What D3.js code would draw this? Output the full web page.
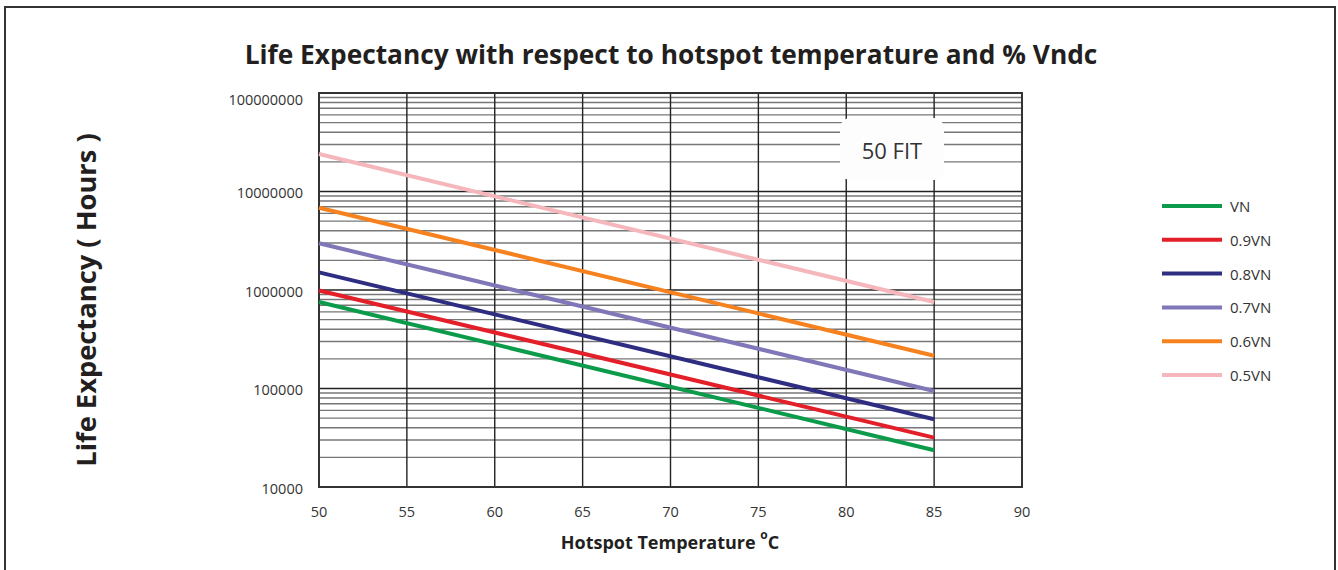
<!DOCTYPE html>
<html>
<head>
<meta charset="utf-8">
<script src="https://cdn.jsdelivr.net/npm/d3@7"></script>
<style>
  body { margin: 0; background: #fff; }
  text { font-family: "Open Sans", sans-serif; }
</style>
</head>
<body>
<div id="chart"></div>
<script>
// data (values at 50 and 85 degC)
var temps = [50, 85];
var seriesNames = ["VN", "0.9VN", "0.8VN", "0.7VN", "0.6VN", "0.5VN"];
var vn   = [755000, 23600];
var vn09 = [990000, 31700];
var vn08 = [1510000, 48700];
var vn07 = [2980000, 94400];
var vn06 = [6850000, 215000];
var vn05 = [24000000, 755000];
var xTicks = [50, 55, 60, 65, 70, 75, 80, 85, 90];
var yTicks = [10000, 100000, 1000000, 10000000, 100000000];
var yTickLabels = ["10000", "100000", "1000000", "10000000", "100000000"];

var colors = ["#0b9b4b", "#e31f2a", "#2e2d82", "#7f77b7", "#f6821f", "#f5b7bc"];
var allSeries = [vn, vn09, vn08, vn07, vn06, vn05];

var W = 1338, H = 570;
var svg = d3.select("#chart").append("svg")
  .attr("width", W).attr("height", H);

// outer frame
svg.append("rect")
  .attr("x", 5).attr("y", 7)
  .attr("width", 1330).attr("height", 600)
  .attr("fill", "none").attr("stroke", "#333").attr("stroke-width", 2);

var plotLeft = 319, plotRight = 1022, plotTop = 93, plotBottom = 487;

var x = d3.scaleLinear().domain([50, 90]).range([plotLeft, plotRight]);
var y = d3.scaleLog().domain([10000, 100000000]).range([plotBottom, plotTop]);

// minor horizontal grid
svg.append("g").selectAll("line")
  .data(y.ticks().filter(function(d) { return yTicks.indexOf(d) < 0; }))
  .enter().append("line")
    .attr("x1", plotLeft).attr("x2", plotRight)
    .attr("y1", function(d) { return y(d); })
    .attr("y2", function(d) { return y(d); })
    .attr("stroke", "#777").attr("stroke-width", 1.4);

// major horizontal grid
svg.append("g").selectAll("line")
  .data(yTicks)
  .enter().append("line")
    .attr("x1", plotLeft).attr("x2", plotRight)
    .attr("y1", function(d) { return y(d); })
    .attr("y2", function(d) { return y(d); })
    .attr("stroke", "#222").attr("stroke-width", 1.4);

// vertical grid
svg.append("g").selectAll("line")
  .data(xTicks)
  .enter().append("line")
    .attr("x1", function(d) { return x(d); })
    .attr("x2", function(d) { return x(d); })
    .attr("y1", plotTop).attr("y2", plotBottom)
    .attr("stroke", "#222").attr("stroke-width", 1.4);

// plot frame
svg.append("rect")
  .attr("x", plotLeft).attr("y", plotTop)
  .attr("width", plotRight - plotLeft).attr("height", plotBottom - plotTop)
  .attr("fill", "none").attr("stroke", "#333").attr("stroke-width", 2);

// 50 FIT box
svg.append("rect")
  .attr("x", 840).attr("y", 118)
  .attr("width", 104).attr("height", 62)
  .attr("rx", 10)
  .attr("fill", "#fdfdfd");
svg.append("text")
  .attr("x", 892).attr("y", 150)
  .attr("text-anchor", "middle")
  .attr("dominant-baseline", "central")
  .attr("font-size", 22)
  .attr("fill", "#333")
  .text("50 FIT");

// series lines
var line = d3.line()
  .x(function(d, i) { return x(temps[i]); })
  .y(function(d) { return y(d); });

svg.append("g").selectAll("path")
  .data(allSeries)
  .enter().append("path")
    .attr("d", line)
    .attr("fill", "none")
    .attr("stroke", function(d, i) { return colors[i]; })
    .attr("stroke-width", 4);

// y tick labels
svg.append("g").selectAll("text")
  .data(yTicks)
  .enter().append("text")
    .attr("x", 303)
    .attr("y", function(d, i) { return y(d) + (i === 4 ? 6 : 1); })
    .attr("text-anchor", "end")
    .attr("dominant-baseline", "central")
    .attr("font-size", 14.5)
    .attr("fill", "#333")
    .text(function(d, i) { return yTickLabels[i]; });

// x tick labels
svg.append("g").selectAll("text")
  .data(xTicks)
  .enter().append("text")
    .attr("x", function(d) { return x(d); })
    .attr("y", 511)
    .attr("text-anchor", "middle")
    .attr("dominant-baseline", "central")
    .attr("font-size", 14.5)
    .attr("fill", "#333")
    .text(function(d) { return d; });

// titles
svg.append("text")
  .attr("x", 671).attr("y", 54)
  .attr("text-anchor", "middle")
  .attr("dominant-baseline", "central")
  .attr("font-size", 26.3).attr("font-weight", "bold")
  .attr("fill", "#231f20")
  .text("Life Expectancy with respect to hotspot temperature and % Vndc");

var xt = svg.append("text")
  .attr("x", 670).attr("y", 542)
  .attr("text-anchor", "middle")
  .attr("dominant-baseline", "central")
  .attr("font-size", 18).attr("font-weight", "bold")
  .attr("fill", "#231f20");
xt.append("tspan").text("Hotspot Temperature ");
xt.append("tspan").attr("font-size", 12).attr("dy", -8).text("o");
xt.append("tspan").attr("dy", 8).text("C");

svg.append("text")
  .attr("transform", "translate(85,300) rotate(-90)")
  .attr("text-anchor", "middle")
  .attr("dominant-baseline", "central")
  .attr("font-size", 27.3).attr("font-weight", "bold")
  .attr("fill", "#231f20")
  .text("Life Expectancy ( Hours )");

// legend
var legend = svg.append("g").selectAll("g")
  .data(seriesNames)
  .enter().append("g")
    .attr("transform", function(d, i) { return "translate(1162," + (206 + i * 33.8) + ")"; });
legend.append("line")
  .attr("x1", 0).attr("x2", 60)
  .attr("stroke", function(d, i) { return colors[i]; })
  .attr("stroke-width", 4);
legend.append("text")
  .attr("x", 68)
  .attr("dominant-baseline", "central")
  .attr("font-size", 15)
  .attr("fill", "#333")
  .text(function(d) { return d; });
</script>
</body>
</html>
